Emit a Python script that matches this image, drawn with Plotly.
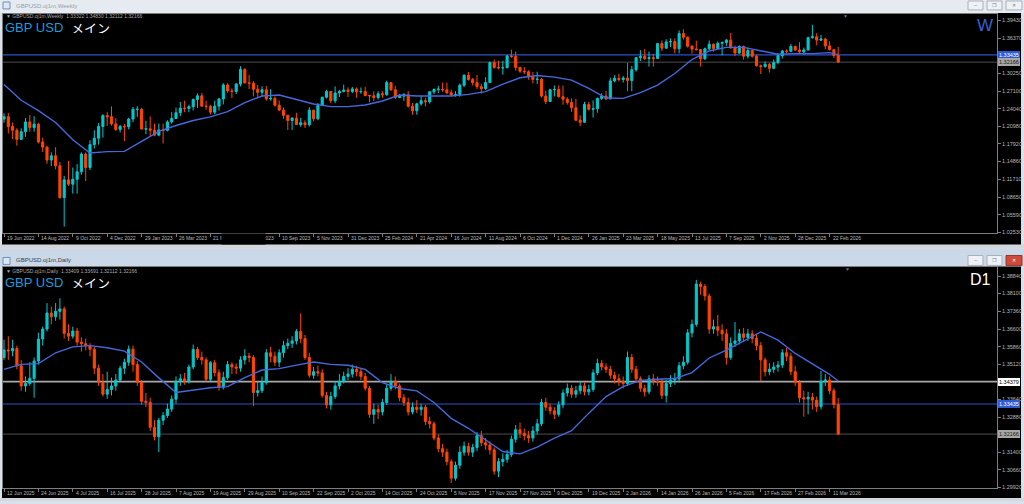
import plotly.graph_objects as go

# ---------------------------------------------------------------- data
# Weekly GBPUSD (bars indexed from week of 19 Jun 2022)
W_FIRST_OPEN = 1.2225
W_CLOSE = [
    1.2265, 1.2095, 1.2030, 1.1870, 1.2005, 1.2175, 1.2075, 1.2135, 1.1825, 1.1735,
    1.1510, 1.1585, 1.1410, 1.0855, 1.1165, 1.1090, 1.1175, 1.1305, 1.1615, 1.1380,
    1.1780, 1.1890, 1.2095, 1.2285, 1.2265, 1.2140, 1.2045, 1.2095, 1.2090, 1.2225,
    1.2395, 1.2395, 1.2050, 1.2055, 1.2030, 1.1945, 1.2035, 1.2030, 1.2175, 1.2235,
    1.2335, 1.2415, 1.2410, 1.2440, 1.2565, 1.2630, 1.2450, 1.2445, 1.2345, 1.2450,
    1.2575, 1.2820, 1.2715, 1.2705, 1.2835, 1.3090, 1.2855, 1.2850, 1.2745, 1.2690,
    1.2735, 1.2575, 1.2585, 1.2465, 1.2380, 1.2290, 1.2200, 1.2240, 1.2130, 1.2160,
    1.2125, 1.2380, 1.2230, 1.2460, 1.2605, 1.2705, 1.2545, 1.2680, 1.2705, 1.2730,
    1.2705, 1.2750, 1.2700, 1.2705, 1.2635, 1.2630, 1.2600, 1.2665, 1.2650, 1.2860,
    1.2735, 1.2600, 1.2625, 1.2650, 1.2450, 1.2370, 1.2490, 1.2545, 1.2525, 1.2700,
    1.2740, 1.2745, 1.2735, 1.2685, 1.2645, 1.2650, 1.2815, 1.2990, 1.2915, 1.2860,
    1.2790, 1.2755, 1.2860, 1.3210, 1.3125, 1.3118, 1.3120, 1.3325, 1.3315, 1.3125,
    1.3060, 1.3050, 1.2960, 1.2915, 1.2920, 1.2625, 1.2530, 1.2735, 1.2740, 1.2615,
    1.2570, 1.2515, 1.2420, 1.2205, 1.2170, 1.2480, 1.2395, 1.2405, 1.2585, 1.2625,
    1.2575, 1.2890, 1.2935, 1.2915, 1.2940, 1.2895, 1.3085, 1.3295, 1.3315, 1.3280,
    1.3295, 1.3280, 1.3540, 1.3460, 1.3570, 1.3575, 1.3450, 1.3715, 1.3652, 1.3495,
    1.3445, 1.3435, 1.3275, 1.3450, 1.3530, 1.3455, 1.3546, 1.3560, 1.3600, 1.3465,
    1.3375, 1.3490, 1.3320, 1.3420, 1.3320, 1.3155, 1.3140, 1.3180, 1.3110, 1.3210,
    1.3330, 1.3410, 1.3405, 1.3490, 1.3430, 1.3395, 1.3430, 1.3644, 1.3660, 1.3600,
    1.3620, 1.3500, 1.3435, 1.33322, 1.32166,
]
W_HIGH = [
    1.2325, 1.2330, 1.2165, 1.2065, 1.2065, 1.2245, 1.2295, 1.2275, 1.2160, 1.1900,
    1.1760, 1.1645, 1.1735, 1.1475, 1.1235, 1.1495, 1.1380, 1.1440, 1.1645, 1.1645,
    1.1855, 1.2030, 1.2155, 1.2310, 1.2345, 1.2445, 1.2240, 1.2125, 1.2140, 1.2245,
    1.2435, 1.2450, 1.2420, 1.2195, 1.2270, 1.2145, 1.2145, 1.2145, 1.2205, 1.2345,
    1.2425, 1.2525, 1.2545, 1.2475, 1.2585, 1.2670, 1.2680, 1.2545, 1.2475, 1.2545,
    1.2595, 1.2850, 1.2850, 1.2760, 1.2850, 1.3145, 1.3110, 1.2995, 1.2890, 1.2820,
    1.2795, 1.2800, 1.2745, 1.2620, 1.2550, 1.2425, 1.2300, 1.2260, 1.2335, 1.2245,
    1.2205, 1.2430, 1.2385, 1.2505, 1.2615, 1.2735, 1.2710, 1.2795, 1.2735, 1.2825,
    1.2775, 1.2785, 1.2775, 1.2775, 1.2785, 1.2640, 1.2710, 1.2710, 1.2710, 1.2895,
    1.2865, 1.2805, 1.2665, 1.2680, 1.2710, 1.2505, 1.2510, 1.2635, 1.2595, 1.2710,
    1.2760, 1.2805, 1.2860, 1.2860, 1.2740, 1.2710, 1.2845, 1.3000, 1.3045, 1.2940,
    1.2995, 1.2840, 1.2955, 1.3230, 1.3265, 1.3240, 1.3240, 1.3345, 1.3435, 1.3400,
    1.3125, 1.3130, 1.3075, 1.3045, 1.3050, 1.2940, 1.2720, 1.2750, 1.2810, 1.2810,
    1.2810, 1.2605, 1.2585, 1.2575, 1.2290, 1.2525, 1.2525, 1.2550, 1.2600, 1.2675,
    1.2715, 1.2945, 1.2990, 1.3015, 1.2975, 1.3205, 1.3150, 1.3300, 1.3425, 1.3445,
    1.3400, 1.3360, 1.3545, 1.3595, 1.3615, 1.3630, 1.3630, 1.3770, 1.3790, 1.3665,
    1.3510, 1.3590, 1.3445, 1.3470, 1.3595, 1.3540, 1.3575, 1.3575, 1.3620, 1.3726,
    1.3505, 1.3510, 1.3505, 1.3470, 1.3430, 1.3345, 1.3175, 1.3230, 1.3200, 1.3265,
    1.3370, 1.3430, 1.3440, 1.3535, 1.3505, 1.3565, 1.3470, 1.3660, 1.3868, 1.3720,
    1.3690, 1.3640, 1.3580, 1.3445, 1.3483,
]
W_LOW = [
    1.2160, 1.1975, 1.1875, 1.1760, 1.1860, 1.1915, 1.2005, 1.2005, 1.1800, 1.1650,
    1.1445, 1.1405, 1.1350, 1.0840, 1.0350, 1.1060, 1.0925, 1.0925, 1.1255, 1.1145,
    1.1335, 1.1710, 1.1780, 1.1900, 1.2105, 1.2110, 1.2015, 1.1990, 1.1840, 1.2045,
    1.2170, 1.2265, 1.2045, 1.1960, 1.1915, 1.1925, 1.1925, 1.1800, 1.2010, 1.2145,
    1.2230, 1.2275, 1.2345, 1.2345, 1.2375, 1.2420, 1.2445, 1.2390, 1.2305, 1.2310,
    1.2370, 1.2480, 1.2685, 1.2590, 1.2660, 1.2795, 1.2845, 1.2745, 1.2620, 1.2615,
    1.2615, 1.2545, 1.2545, 1.2445, 1.2370, 1.2230, 1.2035, 1.2035, 1.2125, 1.2090,
    1.2070, 1.2095, 1.2185, 1.2205, 1.2450, 1.2585, 1.2500, 1.2500, 1.2610, 1.2690,
    1.2610, 1.2675, 1.2595, 1.2665, 1.2620, 1.2520, 1.2535, 1.2565, 1.2595, 1.2630,
    1.2715, 1.2575, 1.2590, 1.2540, 1.2425, 1.2300, 1.2300, 1.2460, 1.2445, 1.2495,
    1.2660, 1.2680, 1.2700, 1.2655, 1.2625, 1.2615, 1.2615, 1.2780, 1.2895, 1.2810,
    1.2750, 1.2665, 1.2735, 1.2855, 1.3105, 1.3090, 1.3000, 1.3110, 1.3290, 1.3070,
    1.3030, 1.3010, 1.2910, 1.2845, 1.2835, 1.2600, 1.2485, 1.2530, 1.2620, 1.2600,
    1.2475, 1.2475, 1.2350, 1.2190, 1.2100, 1.2160, 1.2375, 1.2250, 1.2335, 1.2560,
    1.2560, 1.2575, 1.2865, 1.2880, 1.2860, 1.2710, 1.2710, 1.3050, 1.3235, 1.3255,
    1.3140, 1.3140, 1.3290, 1.3410, 1.3450, 1.3480, 1.3370, 1.3370, 1.3610, 1.3470,
    1.3365, 1.3420, 1.3140, 1.3255, 1.3425, 1.3400, 1.3445, 1.3335, 1.3500, 1.3455,
    1.3320, 1.3365, 1.3260, 1.3280, 1.3295, 1.3140, 1.3010, 1.3120, 1.3035, 1.3095,
    1.3180, 1.3280, 1.3370, 1.3395, 1.3410, 1.3375, 1.3350, 1.3415, 1.3625, 1.3510,
    1.3585, 1.3440, 1.3420, 1.3290, 1.32112,
]
W_MA_IDX = [0, 4, 8, 12, 16, 20, 24, 28, 32, 36, 40, 44, 48, 52, 56, 60, 64, 68, 72,
            76, 80, 84, 88, 92, 96, 100, 104, 108, 112, 116, 120, 124, 128, 132, 136,
            140, 144, 148, 152, 156, 160, 164, 168, 172, 176, 180, 184, 188, 192, 194]
W_MA = [1.2829, 1.2552, 1.2373, 1.2165, 1.1865, 1.1634, 1.1657, 1.1662, 1.1836, 1.2009,
        1.2113, 1.2199, 1.2263, 1.2355, 1.2511, 1.2627, 1.2644, 1.2569, 1.2488, 1.2442,
        1.2442, 1.2471, 1.2540, 1.2644, 1.2627, 1.2627, 1.2627, 1.2655, 1.2702, 1.2834,
        1.2944, 1.2985, 1.2956, 1.2904, 1.2759, 1.2592, 1.2586, 1.2684, 1.2817, 1.3019,
        1.3262, 1.3412, 1.3475, 1.3475, 1.3412, 1.3354, 1.3366, 1.3366, 1.3383, 1.3348]
W_DATE_LABELS = ["19 Jun 2022", "14 Aug 2022", "9 Oct 2022", "4 Dec 2022", "29 Jan 2023",
                 "26 Mar 2023", "21 May 2023", "16 Jul 2023", "10 Sep 2023", "5 Nov 2023",
                 "31 Dec 2023", "25 Feb 2024", "21 Apr 2024", "16 Jun 2024", "11 Aug 2024",
                 "6 Oct 2024", "1 Dec 2024", "26 Jan 2025", "23 Mar 2025", "18 May 2025",
                 "13 Jul 2025", "7 Sep 2025", "2 Nov 2025", "28 Dec 2025", "22 Feb 2026"]
W_PRICE_TICKS = [1.39430, 1.36370, 1.30250, 1.27100, 1.24040, 1.20980, 1.17920,
                 1.14860, 1.11710, 1.08650, 1.05590, 1.02530]
W_HEADER = "▼ GBPUSD.oj1m,Weekly  1.33322 1.34830 1.32112 1.32166"

# Daily GBPUSD (bars indexed from 12 Jun 2025)
D_FIRST_OPEN = 1.3540
D_CLOSE = [
    1.3572, 1.3568, 1.3578, 1.3505, 1.3420, 1.3430, 1.3452, 1.3525, 1.3618, 1.3660,
    1.3728, 1.3712, 1.3735, 1.3745, 1.3642, 1.3630, 1.3652, 1.3605, 1.3598, 1.3590,
    1.3575, 1.3495, 1.3435, 1.3385, 1.3405, 1.3420, 1.3445, 1.3495, 1.3520, 1.3575,
    1.3510, 1.3435, 1.3355, 1.3350, 1.3245, 1.3205, 1.3275, 1.3295, 1.3322, 1.3364,
    1.3440, 1.3450, 1.3440, 1.3500, 1.3574, 1.3540, 1.3530, 1.3448, 1.3518, 1.3476,
    1.3415, 1.3455, 1.3510, 1.3500, 1.3495, 1.3530, 1.3546, 1.3540, 1.3392, 1.3400,
    1.3434, 1.3560, 1.3545, 1.3520, 1.3560, 1.3590, 1.3600, 1.3610, 1.3650, 1.3620,
    1.3540, 1.3465, 1.3480, 1.3475, 1.3380, 1.3340, 1.3375, 1.3420, 1.3440, 1.3460,
    1.3470, 1.3490, 1.3480, 1.3460, 1.3410, 1.3300, 1.3320, 1.3310, 1.3350, 1.3410,
    1.3440, 1.3420, 1.3370, 1.3350, 1.3310, 1.3330, 1.3320, 1.3330, 1.3270, 1.3260,
    1.3200, 1.3155, 1.3140, 1.3100, 1.3030, 1.3085, 1.3140, 1.3165, 1.3140, 1.3160,
    1.3210, 1.3180, 1.3170, 1.3150, 1.3060, 1.3100, 1.3110, 1.3130, 1.3195, 1.3235,
    1.3220, 1.3210, 1.3200, 1.3230, 1.3260, 1.3350, 1.3330, 1.3315, 1.3300, 1.3340,
    1.3390, 1.3410, 1.3385, 1.3400, 1.3420, 1.3395, 1.3405, 1.3475, 1.3515, 1.3500,
    1.3490, 1.3465, 1.3450, 1.3440, 1.3430, 1.3540, 1.3490, 1.3450, 1.3410, 1.3395,
    1.3450, 1.3440, 1.3436, 1.3380, 1.3430, 1.3445, 1.3450, 1.3505, 1.3520, 1.3644,
    1.3680, 1.3850, 1.3840, 1.3800, 1.3660, 1.3670, 1.3655, 1.3640, 1.3540, 1.3600,
    1.3610, 1.3640, 1.3625, 1.3640, 1.3620, 1.3590, 1.3530, 1.3480, 1.3490, 1.3500,
    1.3508, 1.3560, 1.3545, 1.3480, 1.3435, 1.3370, 1.3365, 1.3372, 1.3360, 1.3332,
    1.3440, 1.3445, 1.3400, 1.3341, 1.32166,
]
D_HIGH = [
    1.3615, 1.3630, 1.3615, 1.3590, 1.3530, 1.3460, 1.3520, 1.3540, 1.3645, 1.3670,
    1.3770, 1.3755, 1.3770, 1.3790, 1.3755, 1.3680, 1.3670, 1.3665, 1.3625, 1.3620,
    1.3600, 1.3585, 1.3510, 1.3470, 1.3480, 1.3455, 1.3470, 1.3505, 1.3535, 1.3590,
    1.3590, 1.3525, 1.3445, 1.3390, 1.3370, 1.3275, 1.3285, 1.3310, 1.3345, 1.3380,
    1.3460, 1.3470, 1.3475, 1.3510, 1.3595, 1.3585, 1.3565, 1.3540, 1.3525, 1.3530,
    1.3490, 1.3480, 1.3525, 1.3520, 1.3515, 1.3545, 1.3575, 1.3560, 1.3550, 1.3440,
    1.3460, 1.3575, 1.3585, 1.3565, 1.3575, 1.3610, 1.3620, 1.3630, 1.3660, 1.3726,
    1.3635, 1.3560, 1.3500, 1.3505, 1.3490, 1.3395, 1.3395, 1.3440, 1.3470, 1.3480,
    1.3495, 1.3510, 1.3505, 1.3495, 1.3475, 1.3420, 1.3345, 1.3340, 1.3365, 1.3425,
    1.3470, 1.3460, 1.3430, 1.3385, 1.3370, 1.3350, 1.3360, 1.3345, 1.3340, 1.3290,
    1.3270, 1.3215, 1.3175, 1.3155, 1.3110, 1.3100, 1.3165, 1.3185, 1.3180, 1.3175,
    1.3225, 1.3230, 1.3200, 1.3185, 1.3160, 1.3115, 1.3135, 1.3150, 1.3210, 1.3255,
    1.3265, 1.3240, 1.3230, 1.3250, 1.3280, 1.3365, 1.3370, 1.3345, 1.3330, 1.3355,
    1.3405, 1.3430, 1.3425, 1.3420, 1.3440, 1.3435, 1.3425, 1.3490, 1.3535, 1.3530,
    1.3515, 1.3505, 1.3480, 1.3470, 1.3460, 1.3565, 1.3555, 1.3505, 1.3460, 1.3425,
    1.3465, 1.3470, 1.3460, 1.3450, 1.3445, 1.3465, 1.3475, 1.3520, 1.3545, 1.3660,
    1.3700, 1.3868, 1.3860, 1.3850, 1.3810, 1.3700, 1.3720, 1.3680, 1.3660, 1.3625,
    1.3690, 1.3660, 1.3665, 1.3660, 1.3655, 1.3640, 1.3605, 1.3540, 1.3515, 1.3520,
    1.3525, 1.3575, 1.3580, 1.3560, 1.3505, 1.3445, 1.3400, 1.3395, 1.3390, 1.3375,
    1.3483, 1.3470, 1.3460, 1.3410, 1.33691,
]
D_LOW = [
    1.3530, 1.3530, 1.3545, 1.3490, 1.3400, 1.3395, 1.3420, 1.3370, 1.3510, 1.3590,
    1.3650, 1.3680, 1.3695, 1.3700, 1.3620, 1.3610, 1.3620, 1.3590, 1.3565, 1.3570,
    1.3545, 1.3470, 1.3420, 1.3375, 1.3365, 1.3380, 1.3400, 1.3440, 1.3470, 1.3505,
    1.3480, 1.3420, 1.3340, 1.3330, 1.3230, 1.3190, 1.3140, 1.3255, 1.3285, 1.3310,
    1.3345, 1.3420, 1.3425, 1.3430, 1.3490, 1.3530, 1.3510, 1.3440, 1.3440, 1.3460,
    1.3400, 1.3405, 1.3445, 1.3470, 1.3470, 1.3480, 1.3510, 1.3520, 1.3335, 1.3375,
    1.3390, 1.3425, 1.3520, 1.3505, 1.3500, 1.3540, 1.3575, 1.3580, 1.3595, 1.3600,
    1.3530, 1.3455, 1.3450, 1.3460, 1.3370, 1.3325, 1.3320, 1.3365, 1.3405, 1.3430,
    1.3445, 1.3455, 1.3460, 1.3445, 1.3400, 1.3285, 1.3260, 1.3280, 1.3295, 1.3340,
    1.3400, 1.3405, 1.3355, 1.3335, 1.3295, 1.3300, 1.3305, 1.3295, 1.3255, 1.3240,
    1.3190, 1.3140, 1.3120, 1.3085, 1.3010, 1.3020, 1.3070, 1.3125, 1.3125, 1.3120,
    1.3145, 1.3165, 1.3150, 1.3130, 1.3045, 1.3035, 1.3080, 1.3095, 1.3120, 1.3180,
    1.3200, 1.3190, 1.3180, 1.3185, 1.3215, 1.3250, 1.3315, 1.3300, 1.3280, 1.3290,
    1.3325, 1.3375, 1.3370, 1.3370, 1.3385, 1.3380, 1.3380, 1.3395, 1.3465, 1.3485,
    1.3475, 1.3450, 1.3430, 1.3420, 1.3410, 1.3420, 1.3475, 1.3435, 1.3395, 1.3375,
    1.3385, 1.3425, 1.3420, 1.3365, 1.3350, 1.3415, 1.3425, 1.3440, 1.3490, 1.3510,
    1.3625, 1.3670, 1.3805, 1.3780, 1.3640, 1.3640, 1.3630, 1.3610, 1.3510, 1.3530,
    1.3585, 1.3595, 1.3605, 1.3610, 1.3600, 1.3570, 1.3440, 1.3460, 1.3465, 1.3475,
    1.3480, 1.3495, 1.3525, 1.3465, 1.3420, 1.3350, 1.3290, 1.3300, 1.3320, 1.3310,
    1.3320, 1.3420, 1.3385, 1.3325, 1.32112,
]
D_MA_IDX = W_MA_IDX
D_MA = [1.3490, 1.3511, 1.3514, 1.3560, 1.3585, 1.3590, 1.3581, 1.3567, 1.3521, 1.3454,
        1.3392, 1.3403, 1.3412, 1.3417, 1.3455, 1.3487, 1.3493, 1.3508, 1.3521, 1.3511,
        1.3507, 1.3490, 1.3434, 1.3409, 1.3399, 1.3350, 1.3283, 1.3241, 1.3193, 1.3143,
        1.3133, 1.3161, 1.3199, 1.3231, 1.3305, 1.3375, 1.3417, 1.3443, 1.3448, 1.3451,
        1.3476, 1.3538, 1.3571, 1.3611, 1.3648, 1.3613, 1.3557, 1.3513, 1.3469, 1.3441]
D_DATE_LABELS = ["12 Jun 2025", "24 Jun 2025", "4 Jul 2025", "16 Jul 2025", "28 Jul 2025",
                 "7 Aug 2025", "19 Aug 2025", "29 Aug 2025", "10 Sep 2025", "22 Sep 2025",
                 "2 Oct 2025", "14 Oct 2025", "24 Oct 2025", "5 Nov 2025", "17 Nov 2025",
                 "27 Nov 2025", "9 Dec 2025", "19 Dec 2025", "2 Jan 2026", "14 Jan 2026",
                 "26 Jan 2026", "5 Feb 2026", "17 Feb 2026", "27 Feb 2026", "11 Mar 2026"]
D_PRICE_TICKS = [1.38840, 1.38100, 1.37360, 1.36600, 1.35860, 1.35120, 1.33640,
                 1.32880, 1.31400, 1.30660, 1.29920]
D_HEADER = "▼ GBPUSD.oj1m,Daily  1.33409 1.33691 1.32112 1.32166"

LEVEL_BLUE = 1.33435
LEVEL_GREY = 1.32166
LEVEL_WHITE = 1.34379
LABEL_STEP = 8

# ---------------------------------------------------------------- style
W, H = 1024, 504
FONT = "Liberation Sans"
BULL = "#00c8cc"
BEAR = "#ff4500"
MA_COL = "#4568de"
BLUE_LINE = "#2e52c8"
FRAME = "#7d7d7d"
TXT = "#b8b8b8"


def px(x):
    return x / W


def py(y):
    return 1 - y / H


X_DOMAIN = [px(3), px(997)]
X_RANGE = [-0.233, 230.93]
TOP_DOM = [py(234), py(14)]
BOT_DOM = [py(491), py(268.5)]
TOP_RANGE = [1.02459, 1.40573]
BOT_RANGE = [1.29885, 1.39226]

fig = go.Figure()


def add_panel(closes, highs, lows, first_open, ma_idx, ma, xa, ya):
    opens = [first_open] + closes[:-1]
    xs = list(range(len(closes)))
    fig.add_trace(go.Candlestick(
        x=xs, open=opens, high=highs, low=lows, close=closes,
        xaxis=xa, yaxis=ya, whiskerwidth=0, hoverinfo="skip",
        increasing=dict(line=dict(color=BULL, width=1), fillcolor=BULL),
        decreasing=dict(line=dict(color=BEAR, width=1), fillcolor=BEAR)))
    fig.add_trace(go.Scatter(x=ma_idx, y=ma, mode="lines", xaxis=xa, yaxis=ya,
                             line=dict(color=MA_COL, width=1.4), hoverinfo="skip"))


add_panel(W_CLOSE, W_HIGH, W_LOW, W_FIRST_OPEN, W_MA_IDX, W_MA, "x", "y")
add_panel(D_CLOSE, D_HIGH, D_LOW, D_FIRST_OPEN, D_MA_IDX, D_MA, "x2", "y2")

tick_idx = [i * LABEL_STEP for i in range(len(W_DATE_LABELS))]


def xaxis(anchor):
    return dict(domain=X_DOMAIN, range=X_RANGE, anchor=anchor, showgrid=False,
                zeroline=False, showline=True, mirror=True, linecolor=FRAME,
                linewidth=1, ticks="outside", ticklen=3, tickcolor=FRAME,
                tickvals=tick_idx, showticklabels=False,
                rangeslider=dict(visible=False), fixedrange=True)


def yaxis(anchor, dom, rng, ticks):
    return dict(domain=dom, range=rng, anchor=anchor, side="right", showgrid=False,
                zeroline=False, showline=True, mirror=True, linecolor=FRAME,
                linewidth=1, ticks="outside", ticklen=3, tickcolor=FRAME,
                tickvals=ticks, ticktext=[f"{t:.5f}" for t in ticks],
                tickfont=dict(family=FONT, size=5.5, color=TXT), fixedrange=True)


shapes = []


def rect(x0, y0, x1, y1, fill, line=None, lw=0):
    shapes.append(dict(type="rect", xref="paper", yref="paper", x0=px(x0), x1=px(x1),
                       y0=py(y1), y1=py(y0), fillcolor=fill, layer="below",
                       line=dict(color=line or fill, width=lw)))


# window chrome
rect(0, 0, 1024, 13, "#e6ebf1")
rect(0, 246, 1024, 250, "#d3d7dc")
rect(0, 250, 1024, 268, "#cbd8e8")
rect(0, 501, 1024, 504, "#d3d7dc")
rect(2, 13, 1021, 246, "#000000")
rect(2, 268, 1021, 501, "#000000")
rect(3, 2, 10, 9, "#dbe7f5", "#6d8fbf", 1)
rect(3, 259, 10, 266, "#dbe7f5", "#6d8fbf", 1)
for (x0, x1) in [(968, 983), (987, 1002)]:
    rect(x0, 1, x1, 10, "#eef1f5", "#a7b0bc", 1)
    rect(x0, 257, x1, 267, "#eef1f5", "#a7b0bc", 1)
rect(1006, 1, 1022, 10, "#eef1f5", "#a7b0bc", 1)
rect(1006, 257, 1022, 267, "#cf4a3a", "#9c3326", 1)

# horizontal levels
for ya, lvl, col, wd in [("y", LEVEL_BLUE, BLUE_LINE, 1.2), ("y", LEVEL_GREY, "#4e4e4e", 1),
                         ("y2", LEVEL_WHITE, "#a9a9a9", 1.6), ("y2", LEVEL_BLUE, BLUE_LINE, 1.2),
                         ("y2", LEVEL_GREY, "#4e4e4e", 1)]:
    xr = "x domain" if ya == "y" else "x2 domain"
    shapes.append(dict(type="line", xref=xr, yref=ya, x0=0, x1=1, y0=lvl, y1=lvl,
                       line=dict(color=col, width=wd), layer="below"))

ann = []


def text(x, y, s, size, color, family=FONT, xanchor="left", yref="paper", xref="paper", **kw):
    ann.append(dict(x=x, y=y, xref=xref, yref=yref, text=s, showarrow=False,
                    xanchor=xanchor, yanchor="middle",
                    font=dict(family=family, size=size, color=color), **kw))


# title bars
text(px(14), py(6.5), "GBPUSD.oj1m,Weekly", 6, "#9a9ea4")
text(px(14), py(262), "GBPUSD.oj1m,Daily", 6, "#3c3c3c")
for yy, col in [(5.5, "#7a7f86"), (262, "#7a7f86")]:
    text(px(975.5), py(yy), "–", 6, col, xanchor="center")
    text(px(994.5), py(yy), "❐", 5, col, xanchor="center")
text(px(1014), py(5.5), "✕", 5, "#7a7f86", xanchor="center")
text(px(1014), py(262), "✕", 5, "#ffffff", xanchor="center")

# chart headers
text(px(4), py(16.3), W_HEADER, 5, "#a8a8a8")
text(px(4), py(272.8), D_HEADER, 5, "#a8a8a8")
for yy in (26.8, 283.8):
    text(px(3), py(yy), "GBP USD", 13, "#1e9bdc", height=12)
    text(px(69), py(yy), "メイン", 13, "#ffffff", family="Noto Sans CJK JP", height=12)
text(px(845), py(16.5), "▼", 5, "#707070", xanchor="center")
text(px(847), py(271), "▼", 5, "#707070", xanchor="center")
text(px(995), py(26), "W", 17, "#3a60d6", xanchor="right")
text(px(993), py(281.5), "D1", 16, "#ffffff", xanchor="right")

# date labels
for k, lab in enumerate(W_DATE_LABELS):
    text(tick_idx[k], py(239.5), lab, 5, TXT, xref="x", xshift=1)
for k, lab in enumerate(D_DATE_LABELS):
    text(tick_idx[k], py(496), lab, 5, TXT, xref="x2", xshift=1)
# obscured region in weekly date row
ann.append(dict(x=px(221), y=py(240), xref="paper", yref="paper", text=" ", showarrow=False,
                xanchor="left", yanchor="middle", bgcolor="#000000", width=41, height=8,
                font=dict(size=5)))


# price boxes
def box(val, yref, bg, fg):
    ann.append(dict(x=px(998), xref="paper", xanchor="left", y=val, yref=yref,
                    yanchor="middle", text=f"{val:.5f}", showarrow=False, bgcolor=bg,
                    bordercolor="#d0d0d0", borderwidth=0, borderpad=1,
                    font=dict(family=FONT, size=5.5, color=fg)))


box(LEVEL_BLUE, "y", "#2e5ad6", "#ffffff")
box(LEVEL_GREY, "y", "#a6a6a6", "#1a1a1a")
box(LEVEL_WHITE, "y2", "#ffffff", "#000000")
box(LEVEL_BLUE, "y2", "#2e5ad6", "#ffffff")
box(LEVEL_GREY, "y2", "#a6a6a6", "#1a1a1a")

fig.update_layout(
    width=W, height=H, margin=dict(l=0, r=0, t=0, b=0),
    paper_bgcolor="#d9e1eb", plot_bgcolor="#000000", showlegend=False,
    xaxis=xaxis("y"), xaxis2=xaxis("y2"),
    yaxis=yaxis("x", TOP_DOM, TOP_RANGE, W_PRICE_TICKS),
    yaxis2=yaxis("x2", BOT_DOM, BOT_RANGE, D_PRICE_TICKS),
    shapes=shapes, annotations=ann, hovermode=False,
)

fig.write_html("out.html", config={"displayModeBar": False},
               post_script="document.body.style.margin='0';document.body.style.overflow='hidden';")
